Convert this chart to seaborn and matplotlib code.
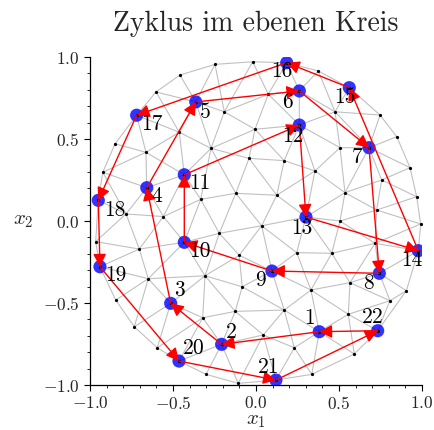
import matplotlib
matplotlib.use("Agg")
import matplotlib.pyplot as plt
import matplotlib.tri as mtri
from matplotlib.ticker import MultipleLocator
import seaborn as sns
import pandas as pd

# ---- data: cycle nodes (in visiting order 1..22) ----
node_ids = list(range(1, 23))
node_x = [0.381, -0.207, -0.514, -0.658, -0.363, 0.261, 0.681, 0.743, 0.096, -0.432, -0.432,
          0.261, 0.301, 0.978, 0.562, 0.185, -0.719, -0.950, -0.940, -0.464, 0.120, 0.733]
node_y = [-0.675, -0.752, -0.502, 0.203, 0.726, 0.793, 0.447, -0.319, -0.305, -0.130, 0.282,
          0.585, 0.024, -0.181, 0.813, 0.965, 0.645, 0.126, -0.279, -0.854, -0.970, -0.669]

# ---- data: remaining mesh vertices (boundary + interior) ----
mesh_x = [-0.020, 0.375, 0.747, 0.848, 0.928, 0.968, 0.992, 0.906, 0.592, 0.336, -0.107,
          -0.301, -0.595, -0.733, -0.845, -0.966, -0.923, -0.849, -0.602, -0.458, -0.247,
          0.074, 0.476, -0.191, -0.006, -0.462, -0.271, -0.663, -0.042, 0.506, 0.170,
          0.355, 0.757, 0.536, 0.125, -0.122, -0.333, 0.727, -0.783, -0.558, 0.506,
          0.034, -0.221, -0.703, 0.717, 0.245, 0.456, -0.101, -0.307, -0.649, 0.566,
          -0.083, 0.331, 0.807, 0.170, -0.125, 0.556, -0.321, 0.044, 0.231]
mesh_y = [0.971, 0.915, 0.646, 0.514, 0.325, 0.148, -0.018, -0.425, -0.811, -0.935, -0.990,
          -0.935, -0.773, -0.645, -0.482, -0.126, 0.297, 0.471, 0.787, 0.890, 0.955,
          0.773, 0.666, 0.666, 0.559, 0.541, 0.443, 0.419, 0.382, 0.447, 0.368,
          0.305, 0.250, 0.173, 0.157, 0.169, 0.132, 0.067, 0.043, 0.027, 0.000,
          -0.029, -0.075, -0.171, -0.136, -0.193, -0.197, -0.209, -0.334, -0.352, -0.376,
          -0.401, -0.421, -0.486, -0.543, -0.551, -0.569, -0.590, -0.695, -0.773]

title = "Zyklus im ebenen Kreis"
ticks = [-1.0, -0.5, 0.0, 0.5, 1.0]

# label offsets (pixels, right / down) relative to each node
label_dx = [-10, 10, 9, 10, 10, -12, -12, -11, -11, 16, 16, -6, -4, -6, -4, -5, 15, 17, 16, 15, -7, -5]
label_dy = [-13, -12, -13, 9, 10, 11, 10, 10, 9, 9, 8, 11, 11, 10, 10, 9, 9, 10, 8, -13, -13, -13]

sns.set_theme(style="ticks")
plt.rcParams.update({
    "font.family": ["cmr10", "DejaVu Serif"],
    "mathtext.fontset": "cm",
    "axes.formatter.use_mathtext": True,
    "axes.unicode_minus": True,
})

DPI = 100
fig = plt.figure(figsize=(4.34, 4.30), dpi=DPI)
ax = fig.add_axes([90 / 434, 1 - 385 / 430, 332 / 434, 328 / 430])

all_x = node_x + mesh_x
all_y = node_y + mesh_y
tri = mtri.Triangulation(all_x, all_y)
ax.triplot(tri, color="#c0c0c0", lw=0.8, zorder=1)

nodes = pd.DataFrame({"x": node_x, "y": node_y, "id": node_ids})
sns.scatterplot(data=nodes, x="x", y="y", color="#0000ff", alpha=0.8, s=90,
                edgecolor="none", ax=ax, zorder=3, legend=False)
ax.plot(all_x, all_y, linestyle="none", marker="o", ms=1.3, color="black", zorder=3.5)

n = len(node_x)
for i in range(n):
    j = (i + 1) % n
    ax.annotate("", xy=(node_x[j], node_y[j]), xytext=(node_x[i], node_y[i]),
                arrowprops=dict(arrowstyle="-|>,head_length=0.55,head_width=0.28",
                                color="#ff0000", lw=1.0, mutation_scale=14,
                                shrinkA=0, shrinkB=0), zorder=4)

k = 72 / DPI
for i in range(n):
    ax.annotate(str(node_ids[i]), xy=(node_x[i], node_y[i]),
                xytext=(label_dx[i] * k, -label_dy[i] * k), textcoords="offset points",
                ha="center", va="center", fontsize=15.5, color="black", zorder=5)

ax.set_xlim(-1, 1)
ax.set_ylim(-1, 1)
ax.set_xticks(ticks)
ax.set_yticks(ticks)
ax.xaxis.set_minor_locator(MultipleLocator(0.1))
ax.yaxis.set_minor_locator(MultipleLocator(0.1))
ax.tick_params(which="major", length=4, width=0.8, labelsize=12.5, color="black")
ax.tick_params(which="minor", length=2.5, width=0.6, color="black")
for s in ["top", "right"]:
    ax.spines[s].set_visible(False)
for s in ["left", "bottom"]:
    ax.spines[s].set_color("black")
    ax.spines[s].set_linewidth(0.9)

ax.set_xlabel("$x_1$", fontsize=15, labelpad=0)
ax.set_ylabel("$x_2$", fontsize=15, rotation=0, labelpad=14, va="center")
ax.set_title(title, fontsize=20, pad=19)

fig.savefig("out.png", dpi=DPI)
